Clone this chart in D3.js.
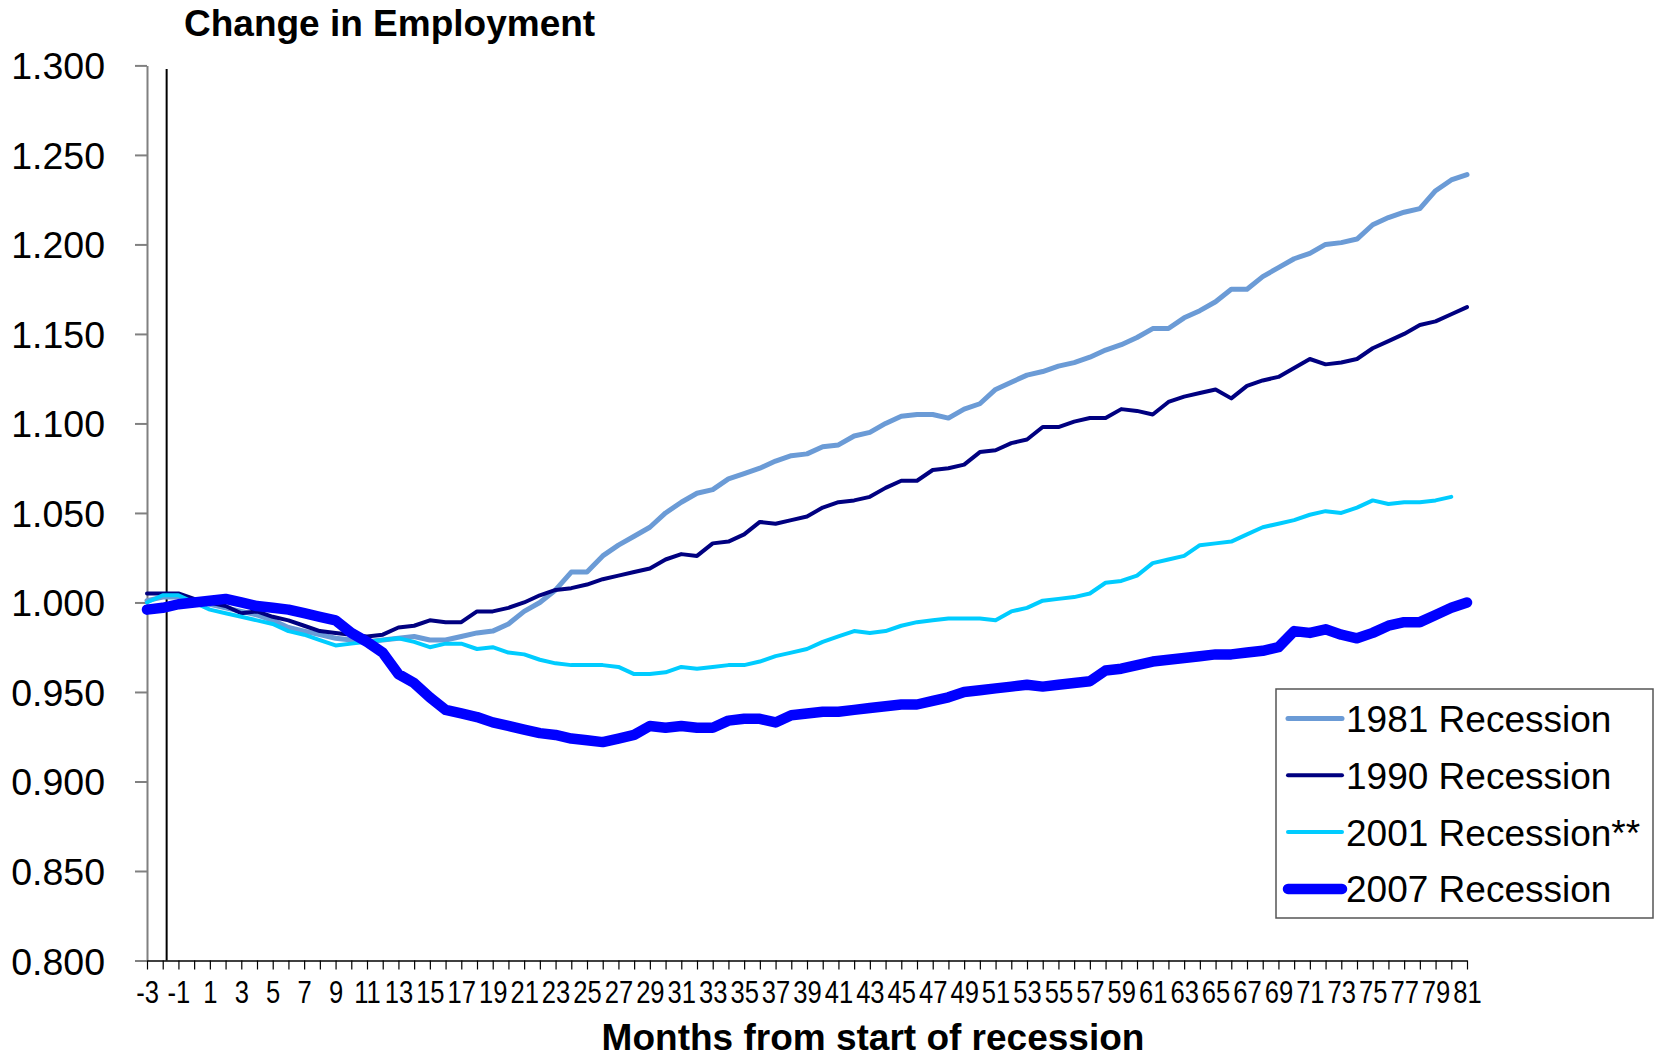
<!DOCTYPE html>
<html lang="en">
<head>
<meta charset="utf-8">
<title>Change in Employment</title>
<script src="https://cdn.jsdelivr.net/npm/d3@7"></script>
<style>
body { margin: 0; background: white; }
svg { display: block; font-family: "Liberation Sans", Arial, sans-serif; }
</style>
</head>
<body>
<svg width="1655" height="1060"></svg>
<script>
// months from start of recession
const months = [-3, -2, -1, 0, 1, 2, 3, 4, 5, 6, 7, 8, 9, 10, 11, 12, 13, 14, 15, 16,
	17, 18, 19, 20, 21, 22, 23, 24, 25, 26, 27, 28, 29, 30, 31, 32, 33, 34, 35, 36,
	37, 38, 39, 40, 41, 42, 43, 44, 45, 46, 47, 48, 49, 50, 51, 52, 53, 54, 55, 56,
	57, 58, 59, 60, 61, 62, 63, 64, 65, 66, 67, 68, 69, 70, 71, 72, 73, 74, 75, 76,
	77, 78, 79, 80, 81];

const rec1981 = [1.001, 1.003, 1.003, 1.001, 0.999, 0.997, 0.995, 0.993, 0.990, 0.986,
	0.984, 0.982, 0.980, 0.979, 0.978, 0.979, 0.980, 0.981, 0.979, 0.979,
	0.981, 0.983, 0.984, 0.988, 0.995, 1.000, 1.007, 1.017, 1.017, 1.026,
	1.032, 1.037, 1.042, 1.050, 1.056, 1.061, 1.063, 1.069, 1.072, 1.075,
	1.079, 1.082, 1.083, 1.087, 1.088, 1.093, 1.095, 1.100, 1.104, 1.105,
	1.105, 1.103, 1.108, 1.111, 1.119, 1.123, 1.127, 1.129, 1.132, 1.134,
	1.137, 1.141, 1.144, 1.148, 1.153, 1.153, 1.159, 1.163, 1.168, 1.175,
	1.175, 1.182, 1.187, 1.192, 1.195, 1.200, 1.201, 1.203, 1.211, 1.215,
	1.218, 1.220, 1.230, 1.236, 1.239];

const rec1990 = [1.005, 1.005, 1.005, 1.002, 1.000, 0.998, 0.994, 0.995, 0.992, 0.990,
	0.987, 0.984, 0.983, 0.982, 0.981, 0.982, 0.986, 0.987, 0.990, 0.989,
	0.989, 0.995, 0.995, 0.997, 1.000, 1.004, 1.007, 1.008, 1.010, 1.013,
	1.015, 1.017, 1.019, 1.024, 1.027, 1.026, 1.033, 1.034, 1.038, 1.045,
	1.044, 1.046, 1.048, 1.053, 1.056, 1.057, 1.059, 1.064, 1.068, 1.068,
	1.074, 1.075, 1.077, 1.084, 1.085, 1.089, 1.091, 1.098, 1.098, 1.101,
	1.103, 1.103, 1.108, 1.107, 1.105, 1.112, 1.115, 1.117, 1.119, 1.114,
	1.121, 1.124, 1.126, 1.131, 1.136, 1.133, 1.134, 1.136, 1.142, 1.146,
	1.150, 1.155, 1.157, 1.161, 1.165];

const rec2001 = [1.000, 1.004, 1.004, 1.000, 0.996, 0.994, 0.992, 0.990, 0.988, 0.984,
	0.982, 0.979, 0.976, 0.977, 0.978, 0.979, 0.980, 0.978, 0.975, 0.977,
	0.977, 0.974, 0.975, 0.972, 0.971, 0.968, 0.966, 0.965, 0.965, 0.965,
	0.964, 0.960, 0.960, 0.961, 0.964, 0.963, 0.964, 0.965, 0.965, 0.967,
	0.970, 0.972, 0.974, 0.978, 0.981, 0.984, 0.983, 0.984, 0.987, 0.989,
	0.990, 0.991, 0.991, 0.991, 0.990, 0.995, 0.997, 1.001, 1.002, 1.003,
	1.005, 1.011, 1.012, 1.015, 1.022, 1.024, 1.026, 1.032, 1.033, 1.034,
	1.038, 1.042, 1.044, 1.046, 1.049, 1.051, 1.050, 1.053, 1.057, 1.055,
	1.056, 1.056, 1.057, 1.059, null];

const rec2007 = [0.996, 0.997, 0.999, 1.000, 1.001, 1.002, 1.000, 0.998, 0.997, 0.996,
	0.994, 0.992, 0.990, 0.983, 0.978, 0.972, 0.960, 0.955, 0.947, 0.940,
	0.938, 0.936, 0.933, 0.931, 0.929, 0.927, 0.926, 0.924, 0.923, 0.922,
	0.924, 0.926, 0.931, 0.930, 0.931, 0.930, 0.930, 0.934, 0.935, 0.935,
	0.933, 0.937, 0.938, 0.939, 0.939, 0.940, 0.941, 0.942, 0.943, 0.943,
	0.945, 0.947, 0.950, 0.951, 0.952, 0.953, 0.954, 0.953, 0.954, 0.955,
	0.956, 0.962, 0.963, 0.965, 0.967, 0.968, 0.969, 0.970, 0.971, 0.971,
	0.972, 0.973, 0.975, 0.984, 0.983, 0.985, 0.982, 0.980, 0.983, 0.987,
	0.989, 0.989, 0.993, 0.997, 1.000];

const seriesNames = ["1981 Recession", "1990 Recession", "2001 Recession**", "2007 Recession"];
const seriesValues = [rec1981, rec1990, rec2001, rec2007];

const yTicks = [0.800, 0.850, 0.900, 0.950, 1.000, 1.050, 1.100, 1.150, 1.200, 1.250, 1.300];
const xTickLabels = ["-3", "-1", "1", "3", "5", "7", "9", "11", "13", "15", "17", "19", "21",
	"23", "25", "27", "29", "31", "33", "35", "37", "39", "41", "43", "45", "47", "49", "51",
	"53", "55", "57", "59", "61", "63", "65", "67", "69", "71", "73", "75", "77", "79", "81"];

// vertical marker line (month, top value)
const markerMonth = -1.75;
const markerTop = 1.298;

// styles
const colors = ["#6b9bd6", "#000080", "#00ccff", "#0000ff"];
const widths = [5, 4, 4, 10.5];

var svg = d3.select("svg");

var x = d3.scaleLinear()
	.domain([months[0], months[months.length - 1]])
	.range([147, 1467]);

var y = d3.scaleLinear()
	.domain([0.8, 1.3])
	.range([960.5, 65.4]);

/// axes
var yAxis = svg.append("g")
	.attr("transform", "translate(147,0)")
	.call(d3.axisLeft(y)
		.tickValues(yTicks)
		.tickFormat(d3.format(".3f"))
		.tickSize(12)
		.tickSizeOuter(0));

yAxis.select(".domain").attr("stroke", "#808080").attr("stroke-width", 2);
yAxis.selectAll(".tick line").attr("stroke", "#808080").attr("stroke-width", 2);
yAxis.selectAll(".tick text")
	.attr("x", -42)
	.attr("dy", "0.36em")
	.attr("fill", "#000")
	.attr("font-size", 37.5)
	.attr("font-family", "'Liberation Sans', Arial, sans-serif");

var xAxis = svg.append("g")
	.attr("transform", "translate(0," + y(0.8) + ")")
	.call(d3.axisBottom(x)
		.tickValues(months)
		.tickSize(9)
		.tickSizeOuter(0)
		.tickFormat(function (d) {
			return xTickLabels.indexOf(String(d)) >= 0 ? String(d) : "";
		}));

xAxis.select(".domain").attr("stroke", "#000").attr("stroke-width", 1.5);
xAxis.selectAll(".tick line").attr("stroke", "#000").attr("stroke-width", 1.2);
xAxis.selectAll(".tick text")
	.attr("y", 0)
	.attr("dy", 0)
	.attr("transform", "translate(0,42) scale(0.8,1)")
	.attr("fill", "#000")
	.attr("font-size", 32)
	.attr("font-family", "'Liberation Sans', Arial, sans-serif");

/// marker line
svg.append("line")
	.attr("x1", x(markerMonth))
	.attr("x2", x(markerMonth))
	.attr("y1", y(markerTop))
	.attr("y2", y(0.8))
	.attr("stroke", "#000")
	.attr("stroke-width", 2);

/// lines
var line = d3.line()
	.defined(function (d) { return d[1] != null; })
	.x(function (d) { return x(d[0]); })
	.y(function (d) { return y(d[1]); });

svg.append("g")
	.selectAll("path")
	.data(seriesValues)
	.enter()
	.append("path")
		.attr("d", function (vals) {
			return line(months.map(function (m, i) { return [m, vals[i]]; }));
		})
		.attr("fill", "none")
		.attr("stroke", function (d, i) { return colors[i]; })
		.attr("stroke-width", function (d, i) { return widths[i]; })
		.attr("stroke-linejoin", "round")
		.attr("stroke-linecap", "round");

/// titles
svg.append("text")
	.attr("x", 184)
	.attr("y", 36)
	.attr("font-size", 37)
	.attr("font-weight", "bold")
	.text("Change in Employment");

svg.append("text")
	.attr("x", 873)
	.attr("y", 1050)
	.attr("text-anchor", "middle")
	.attr("font-size", 37)
	.attr("font-weight", "bold")
	.text("Months from start of recession");

/// legend
var legend = svg.append("g").attr("transform", "translate(1276,689)");

legend.append("rect")
	.attr("width", 377)
	.attr("height", 229)
	.attr("fill", "white")
	.attr("stroke", "#555")
	.attr("stroke-width", 1.5);

var item = legend.selectAll("g.item")
	.data(seriesNames)
	.enter()
	.append("g")
		.classed("item", true)
		.attr("transform", function (d, i) { return "translate(0," + (29.5 + i * 56.8) + ")"; });

item.append("line")
	.attr("x1", 12)
	.attr("x2", 66)
	.attr("stroke", function (d, i) { return colors[i]; })
	.attr("stroke-width", function (d, i) { return widths[i]; })
	.attr("stroke-linecap", "round");

item.append("text")
	.attr("x", 70)
	.attr("y", 13.5)
	.attr("font-size", 37)
	.text(function (d) { return d; });
</script>
</body>
</html>
